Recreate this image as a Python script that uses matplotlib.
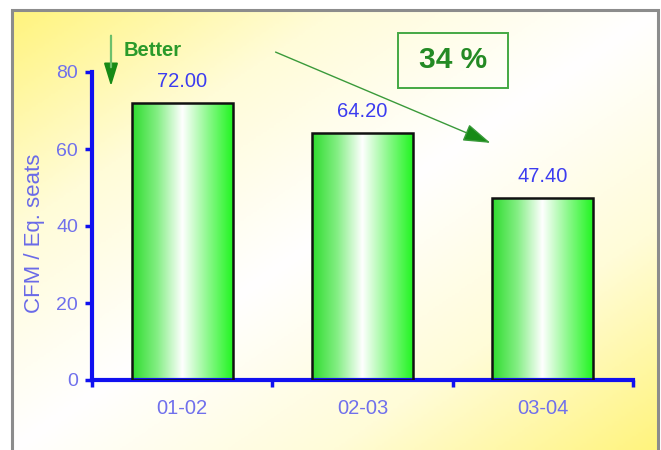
import numpy as np
import matplotlib
matplotlib.use("Agg")
import matplotlib.pyplot as plt
from matplotlib.colors import LinearSegmentedColormap
from matplotlib.patches import Rectangle, FancyArrowPatch

plt.rcParams["font.family"] = ["Liberation Sans", "DejaVu Sans"]

# data
categories = ["01-02", "02-03", "03-04"]
values = [72.00, 64.20, 47.40]
yticks = [0, 20, 40, 60, 80]
reduction_label = "34 %"

W, H = 661, 450
fig = plt.figure(figsize=(W / 100, H / 100), dpi=100)
fig.patch.set_facecolor("white")


def fx(x):
    return x / W


def fy(y):
    return 1 - y / H


# diagonal yellow-white-yellow backdrop inside the frame
bg = fig.add_axes([fx(12), 0, fx(658) - fx(12), fy(10)], zorder=0)
gx, gy = np.meshgrid(np.linspace(0, 1, 300), np.linspace(0, 1, 200))
t = (gx + gy) / 2
bg_cmap = LinearSegmentedColormap.from_list(
    "bg", ["#fff47e", "#fffcd8", "#ffffff", "#fffcd8", "#fff47e"])
bg.imshow(t, cmap=bg_cmap, aspect="auto", origin="upper",
          extent=[0, 1, 0, 1], vmin=0, vmax=1)
bg.set_xlim(0, 1)
bg.set_ylim(0, 1)
bg.axis("off")

# frame border
fig.patches.append(Rectangle((fx(12), -0.01), fx(658) - fx(12), fy(10) + 0.01,
                             transform=fig.transFigure, fill=False,
                             edgecolor="#8c8c8c", linewidth=2.2, zorder=1))

ax = fig.add_axes([fx(92), fy(380), fx(633) - fx(92), fy(72) - fy(380)], zorder=2)
ax.patch.set_alpha(0)

x = np.arange(len(categories)) + 0.5
bars = ax.bar(x, values, width=0.56, facecolor="none", edgecolor="#111111",
              linewidth=1.8, zorder=3)

# cylinder-like shading: green edges, white core
bar_cmap = LinearSegmentedColormap.from_list(
    "bar", [(0.0, "#2edc2e"), (0.25, "#84ee84"), (0.5, "#ffffff"),
            (0.78, "#80f880"), (1.0, "#22f522")])
shade = np.linspace(0, 1, 256).reshape(1, -1)
for rect in bars:
    x0, w, h = rect.get_x(), rect.get_width(), rect.get_height()
    im = ax.imshow(shade, cmap=bar_cmap, aspect="auto",
                   extent=[x0, x0 + w, 0, h], zorder=2)
    im.set_clip_path(rect)

for xi, v in zip(x, values):
    ax.annotate(f"{v:.2f}", (xi, v), xytext=(0, 11.5), textcoords="offset points",
                ha="center", va="baseline", color="#3c3cf0", fontsize=14.5)

ax.set_xlim(0, 3)
ax.set_ylim(0, 80)
ax.set_yticks(yticks)
ax.set_xticks([0.5, 1.5, 2.5])
ax.set_xticklabels(categories)
ax.set_xticks([0, 1, 2, 3], minor=True)
ax.tick_params(axis="x", which="major", length=0, pad=14,
               labelcolor="#7070ec", labelsize=14.5)
ax.tick_params(axis="x", which="minor", length=5, width=2.5, color="#1010f0",
               direction="out")
ax.tick_params(axis="y", length=5, width=2.5, color="#1010f0", pad=5,
               labelcolor="#7070ec", labelsize=14)
for side in ("top", "right"):
    ax.spines[side].set_visible(False)
for side in ("left", "bottom"):
    ax.spines[side].set_color("#1010f0")
    ax.spines[side].set_linewidth(3)
fig.text(fx(35), fy(233), "CFM / Eq. seats", color="#6a6ae8", fontsize=16,
         rotation=90, ha="center", va="center")

# "Better" direction marker
fig.patches.append(FancyArrowPatch((fx(111), fy(33)), (fx(111), fy(89)),
                                   transform=fig.transFigure,
                                   arrowstyle="-|>,head_length=14,head_width=4.3",
                                   facecolor="#168a16", edgecolor="#168a16",
                                   linewidth=1.4, zorder=5))
fig.patches.append(FancyArrowPatch((fx(111), fy(33)), (fx(111), fy(70)),
                                   transform=fig.transFigure, arrowstyle="-",
                                   color="#6cc06c", linewidth=1.6, zorder=6))
fig.text(fx(124), fy(50), "Better", color="#2a9a2a", fontsize=14.5,
         fontweight="bold", va="center", ha="left")

# trend arrow across the bars
fig.patches.append(FancyArrowPatch((fx(273), fy(51)), (fx(493), fy(144)),
                                   transform=fig.transFigure,
                                   arrowstyle="-|>,head_length=17,head_width=5.5",
                                   facecolor="#168a16", edgecolor="#3a9a3a",
                                   linewidth=1.0, zorder=5))

# reduction box
fig.patches.append(Rectangle((fx(398), fy(88)), fx(508) - fx(398), fy(33) - fy(88),
                             transform=fig.transFigure, facecolor="none",
                             edgecolor="#44a844", linewidth=1.4, zorder=5))
fig.text(fx(453), fy(60), reduction_label, color="#248a24", fontsize=21.5,
         fontweight="bold", ha="center", va="center")

fig.savefig("out.png", dpi=100)
